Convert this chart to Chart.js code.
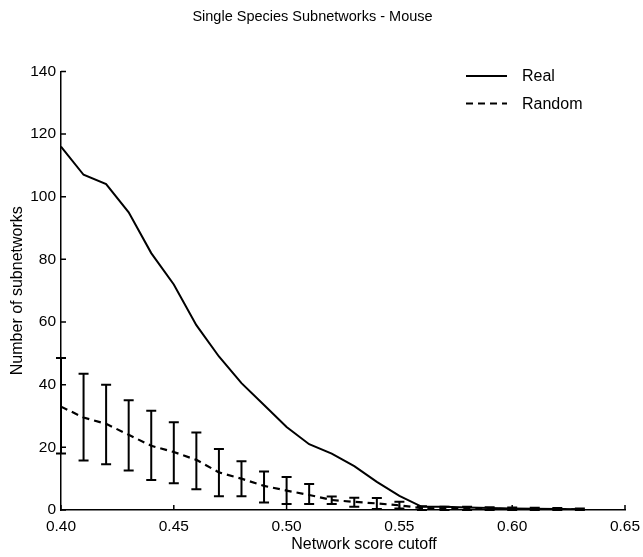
<!DOCTYPE html>
<html>
<head>
<meta charset="utf-8">
<script src="https://cdn.jsdelivr.net/npm/chart.js@4"></script>
<style>
  html, body { margin: 0; padding: 0; background: #fff; }
  #wrap { width: 643px; height: 557px; }
</style>
</head>
<body>
<div id="wrap"><canvas id="subnetChart"></canvas></div>
<script>
// network score cutoff values (x)
const cutoffs = [0.40, 0.41, 0.42, 0.43, 0.44, 0.45, 0.46, 0.47, 0.48, 0.49, 0.50, 0.51,
                 0.52, 0.53, 0.54, 0.55, 0.56, 0.57, 0.58, 0.59, 0.60, 0.61, 0.62, 0.63];
// number of subnetworks, real network
const realCounts = [116, 107, 104, 95, 82, 72, 59, 49, 40.5, 33.5, 26.5, 21,
                    18, 14, 9, 4.5, 1, 1, 0.8, 0.6, 0.5, 0.4, 0.3, 0.2];
// random networks: mean and error bar ends
const randomMean = [33, 29.5, 27.5, 24, 20.5, 18.5, 16, 12, 10, 7.7, 6.2, 4.8,
                    3.2, 2.6, 2.1, 1.5, 0.6, 0.5, 0.5, 0.4, 0.3, 0.3, 0.2, 0.2];
const randomHigh = [48.5, 43.5, 40, 35, 31.7, 28, 24.7, 19.5, 15.6, 12.3, 10.5, 8.3,
                    4.3, 3.9, 3.8, 2.6, 1.2, 1, 1, 0.9, 0.8, 0.7, 0.6, 0.5];
const randomLow = [18, 15.8, 14.6, 12.6, 9.6, 8.5, 6.6, 4.4, 4.4, 2.4, 1.9, 1.9,
                   1.9, 1, 0.3, 0.5, 0, 0, 0, 0, 0, 0, 0, 0];

const FONT = '"Liberation Sans", Arial, sans-serif';
const ctx = document.getElementById('subnetChart').getContext('2d');

// error bars for the random series
const errorBars = {
  id: 'errorBars',
  afterDatasetsDraw(chart) {
    const { ctx, scales: { x, y } } = chart;
    ctx.save();
    ctx.strokeStyle = '#000';
    ctx.lineWidth = 2;
    cutoffs.forEach((c, i) => {
      const px = x.getPixelForValue(c);
      const top = y.getPixelForValue(randomHigh[i]);
      const bot = y.getPixelForValue(randomLow[i]);
      ctx.beginPath();
      ctx.moveTo(px, top); ctx.lineTo(px, bot);
      ctx.moveTo(px - 5, top); ctx.lineTo(px + 5, top);
      ctx.moveTo(px - 5, bot); ctx.lineTo(px + 5, bot);
      ctx.stroke();
    });
    ctx.restore();
  }
};

// inward tick marks, matlab style
const innerTicks = {
  id: 'innerTicks',
  afterDraw(chart) {
    const { ctx, chartArea, scales: { x, y } } = chart;
    ctx.save();
    ctx.strokeStyle = '#000';
    ctx.lineWidth = 1.5;
    ctx.beginPath();
    x.ticks.forEach(t => {
      const px = x.getPixelForValue(t.value);
      ctx.moveTo(px, chartArea.bottom); ctx.lineTo(px, chartArea.bottom - 5);
    });
    y.ticks.forEach(t => {
      const py = y.getPixelForValue(t.value);
      ctx.moveTo(chartArea.left, py); ctx.lineTo(chartArea.left + 5, py);
    });
    ctx.stroke();
    ctx.restore();
  }
};

// legend box in the upper right, drawn from the dataset styles
// plus the x axis label, which sits a bit right of centre in the original
const lineLegend = {
  id: 'lineLegend',
  afterDraw(chart) {
    const { ctx, chartArea } = chart;
    ctx.save();
    ctx.font = '16px ' + FONT;
    ctx.fillStyle = '#000';
    ctx.textBaseline = 'middle';
    chart.data.datasets.forEach((ds, i) => {
      const yy = 76 + i * 27.5;
      ctx.strokeStyle = ds.borderColor;
      ctx.lineWidth = ds.borderWidth;
      ctx.setLineDash(ds.borderDash || []);
      ctx.beginPath();
      ctx.moveTo(466, yy); ctx.lineTo(507, yy);
      ctx.stroke();
      ctx.fillText(ds.label, 522, yy + 1);
    });
    ctx.textAlign = 'center';
    ctx.fillText('Network score cutoff', (chartArea.left + chartArea.right) / 2 + 21, 545);
    ctx.restore();
  }
};

new Chart(ctx, {
  type: 'line',
  data: {
    datasets: [
      {
        label: 'Real',
        data: cutoffs.map((c, i) => ({ x: c, y: realCounts[i] })),
        borderColor: '#000',
        borderWidth: 2,
        pointRadius: 0,
        tension: 0
      },
      {
        label: 'Random',
        data: cutoffs.map((c, i) => ({ x: c, y: randomMean[i] })),
        borderColor: '#000',
        borderWidth: 2.2,
        borderDash: [7, 5],
        pointRadius: 0,
        tension: 0
      }
    ]
  },
  options: {
    responsive: true,
    maintainAspectRatio: false,
    animation: false,
    layout: { padding: { left: 0, right: 18, top: 0, bottom: 0 } },
    plugins: {
      legend: { display: false },
      tooltip: { enabled: false },
      title: {
        display: true,
        text: 'Single Species Subnetworks - Mouse',
        color: '#000',
        font: { family: FONT, size: 14.5, weight: 'normal' },
        padding: { top: 8, bottom: 46 }
      }
    },
    scales: {
      x: {
        type: 'linear',
        min: 0.40,
        max: 0.65,
        afterFit: s => { s.height = 47; s.paddingLeft = 0; s.paddingRight = 0; },
        grid: { display: false, drawTicks: false },
        border: { display: true, color: '#000', width: 1.5 },
        ticks: {
          stepSize: 0.05,
          padding: 7,
          color: '#000',
          font: { family: FONT, size: 15.5 },
          callback: v => v.toFixed(2)
        },
        title: { display: false }
      },
      y: {
        min: 0,
        max: 140,
        afterFit: s => { s.width = 61; },
        grid: { display: false, drawTicks: false },
        border: { display: true, color: '#000', width: 1.5 },
        ticks: {
          stepSize: 20,
          padding: 5,
          color: '#000',
          font: { family: FONT, size: 15.5 }
        },
        title: {
          display: true,
          text: 'Number of subnetworks',
          color: '#000',
          font: { family: FONT, size: 16 },
          padding: { top: 8, bottom: 0 }
        }
      }
    }
  },
  plugins: [errorBars, innerTicks, lineLegend]
});
</script>
</body>
</html>
